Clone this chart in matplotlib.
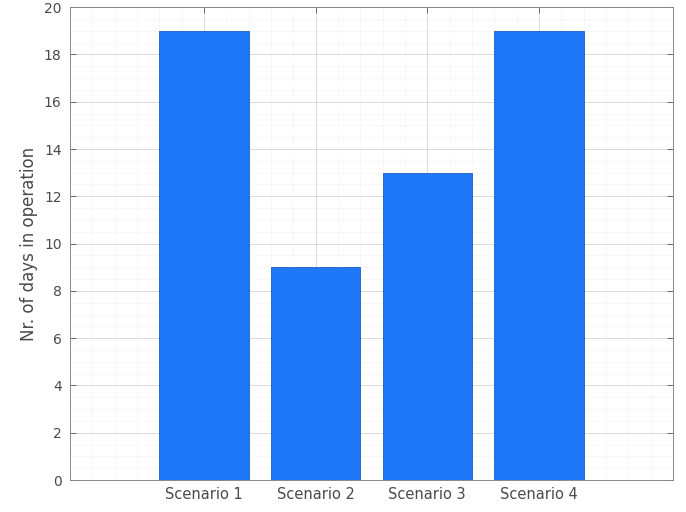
import matplotlib
matplotlib.use("Agg")
import matplotlib.pyplot as plt
from matplotlib.ticker import MultipleLocator

plt.rcParams['font.family'] = ['DejaVu Sans']

scenarios = ["Scenario 1", "Scenario 2", "Scenario 3", "Scenario 4"]
days = [19, 9, 13, 19]
positions = [1, 2, 3, 4]

fig = plt.figure(figsize=(6.86, 5.12), dpi=100)
ax = fig.add_axes([0.102, 0.0625, 0.879, 0.9235])

ax.bar(positions, days, width=0.8, color="#1f78f7", edgecolor="#1a5fc0",
       linewidth=0.6, zorder=3)

ax.set_xlim(-0.2, 5.2)
ax.set_ylim(0, 20)
ax.set_xticks(positions)
ax.set_xticklabels(scenarios)
ax.set_yticks(range(0, 21, 2))
ax.xaxis.set_minor_locator(MultipleLocator(0.2))
ax.yaxis.set_minor_locator(MultipleLocator(0.5))

ax.grid(which="major", color="#d6d6d6", linewidth=0.6, zorder=0)
ax.grid(which="minor", color="#e6e6e6", linewidth=0.5, linestyle=":", zorder=0)

ax.tick_params(which="major", direction="in", top=True, right=True,
               length=4, width=0.6, color="#555555",
               labelsize=10, labelcolor="#4a4a4a", pad=6)
ax.tick_params(axis="x", labelsize=10.5, pad=5)
ax.tick_params(which="minor", length=0)
for s in ax.spines.values():
    s.set_color("#888888")
    s.set_linewidth(0.7)

ax.set_ylabel("Nr. of days in operation", fontsize=12, color="#4a4a4a",
              labelpad=4)

fig.savefig("out.png", dpi=100)
